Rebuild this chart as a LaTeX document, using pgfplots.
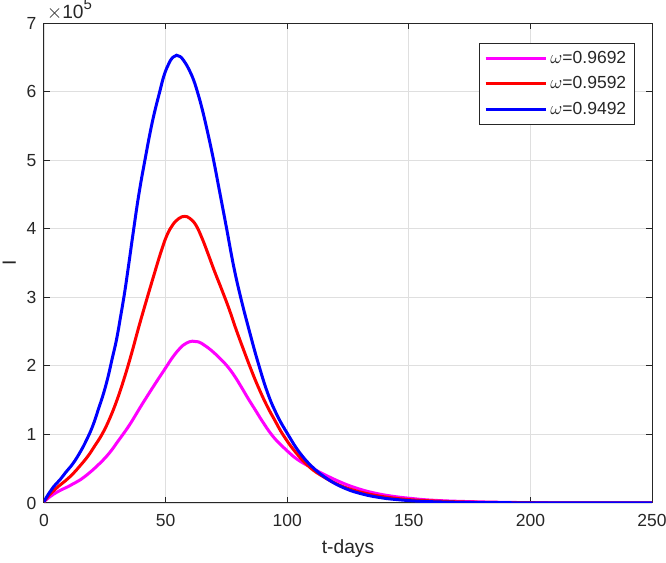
\documentclass[border=0pt]{standalone}
\usepackage{pgfplots}
\pgfplotsset{compat=1.18}
\usepackage{fontspec}
\setmainfont{Liberation Sans}
\definecolor{axgray}{RGB}{38,38,38}
\definecolor{gridgray}{RGB}{223,223,223}
\definecolor{cmag}{RGB}{255,0,255}
\definecolor{cred}{RGB}{255,0,0}
\definecolor{cblue}{RGB}{0,0,255}

\begin{document}
\begin{tikzpicture}
\begin{axis}[
  at={(0,0)},anchor=south west,
  scale only axis,width=364.8pt,height=288pt,
  xmin=0,xmax=250,ymin=0,ymax=7,
  clip mode=individual,
  xtick={0,50,...,250},ytick={0,1,...,7},
  /pgf/number format/assume math mode=true,
  tick label style={font=\fontsize{10.5}{12}\selectfont,text=axgray},
  xticklabel style={yshift=-3pt},
  yticklabel style={xshift=-1pt},
  axis line style={axgray,line width=0.6pt},
  tick style={axgray,line width=0.6pt},
  tick align=inside,major tick length=3.6pt,
  grid=major,major grid style={gridgray,line width=0.5pt},
  xlabel={t-days},ylabel={I},
  label style={font=\fontsize{11.5}{13}\selectfont,text=axgray},
  xlabel style={at={(axis description cs:0.5,-0.094)},anchor=center},
  ylabel style={at={(axis description cs:-0.057,0.5)},anchor=center},
  legend style={at={(0.972,0.958)},anchor=north east,draw=axgray,line width=0.5pt,
    font=\fontsize{10.5}{12}\selectfont,text=axgray,
    inner xsep=3pt,inner ysep=2.5pt,row sep=2.4pt,
    nodes={inner sep=2pt}},
  legend image code/.code={\draw[#1] (0pt,0pt) -- (36pt,0pt);},
  legend cell align=left,
  every axis plot/.append style={line width=1.8pt,smooth,tension=0.7},
]
\addplot[cmag] coordinates {
(0,0.02) (2,0.08) (4,0.13) (7,0.19) (10,0.24) (12,0.28) (15,0.34) (18,0.42)
(20,0.48) (23,0.58) (25.7,0.68) (28,0.78) (30,0.88) (35,1.13) (40,1.42)
(45,1.70) (50,1.97) (53,2.13) (56,2.26) (58.5,2.33) (61,2.36) (63.5,2.35)
(66,2.30) (69,2.22) (72,2.12) (75,2.01) (78,1.87) (81,1.70) (84,1.52)
(87,1.35) (90,1.18) (93.5,1.0) (97,0.86) (100,0.76) (104,0.64) (109.2,0.53)
(115,0.42) (122.9,0.29) (130,0.2) (136.6,0.14) (143,0.1) (150,0.07)
(160,0.04) (175,0.02) (195,0.007) (220,0.002) (250,0.0)};
\addplot[cred] coordinates {
(0,0.02) (2,0.11) (4,0.18) (6,0.245) (9,0.33) (12,0.43) (15,0.55) (18,0.68)
(21,0.84) (24,1.01) (27,1.23) (30,1.5) (33,1.82) (36,2.18) (39,2.57)
(42,2.94) (45,3.3) (48,3.65) (50.5,3.9) (53,4.06) (55.5,4.15) (57.8,4.18)
(60,4.15) (62.5,4.05) (65,3.86) (67.5,3.63) (70,3.39) (73,3.12) (76,2.84)
(79,2.53) (82,2.24) (85,1.96) (88,1.7) (91.5,1.43) (95,1.2) (98.2,1.0)
(103,0.76) (109,0.53) (115,0.38) (121.5,0.26) (128,0.18) (135,0.12)
(142,0.08) (150,0.05) (160,0.03) (175,0.013) (195,0.005) (220,0.002) (250,0.0)};
\addplot[cblue] coordinates {
(0,0.02) (2,0.14) (4,0.24) (6.6,0.34) (9,0.45) (12,0.58) (15,0.75) (17.5,0.92)
(20,1.12) (22.3,1.36) (24.5,1.6) (26.4,1.85) (28,2.1) (29.8,2.38) (31.5,2.72)
(33.2,3.08) (35,3.52) (36.7,3.95) (39,4.5) (41.5,5.0) (44.5,5.55) (47.6,6.0)
(49.5,6.25) (51.5,6.42) (53,6.5) (54.5,6.53) (56,6.51) (57.5,6.45) (59.5,6.33)
(61.5,6.17) (63.3,5.97) (65,5.75) (67,5.45) (69.5,5.04) (72,4.58) (75,4.02)
(78,3.45) (81,2.98) (84.5,2.5) (88,2.05) (92,1.6) (96,1.27) (100.3,1.0)
(105,0.74) (110.5,0.52) (117,0.34) (124,0.21) (131,0.13) (138,0.08)
(145,0.05) (155,0.025) (170,0.01) (190,0.004) (220,0.001) (250,0.0)};
\legend{$\omega$=0.9692,$\omega$=0.9592,$\omega$=0.9492}
\node[anchor=base west,font=\fontsize{11.5}{12}\selectfont,text=axgray,inner sep=0pt]
  at ([yshift=3pt]rel axis cs:0.004,1) {$\times$10\raisebox{0.42em}{\fontsize{9}{9}\selectfont 5}};
\end{axis}
\pgfresetboundingbox
\path (-26.4pt,-36pt) rectangle (373.2pt,301.8pt);
\end{tikzpicture}
\end{document}
